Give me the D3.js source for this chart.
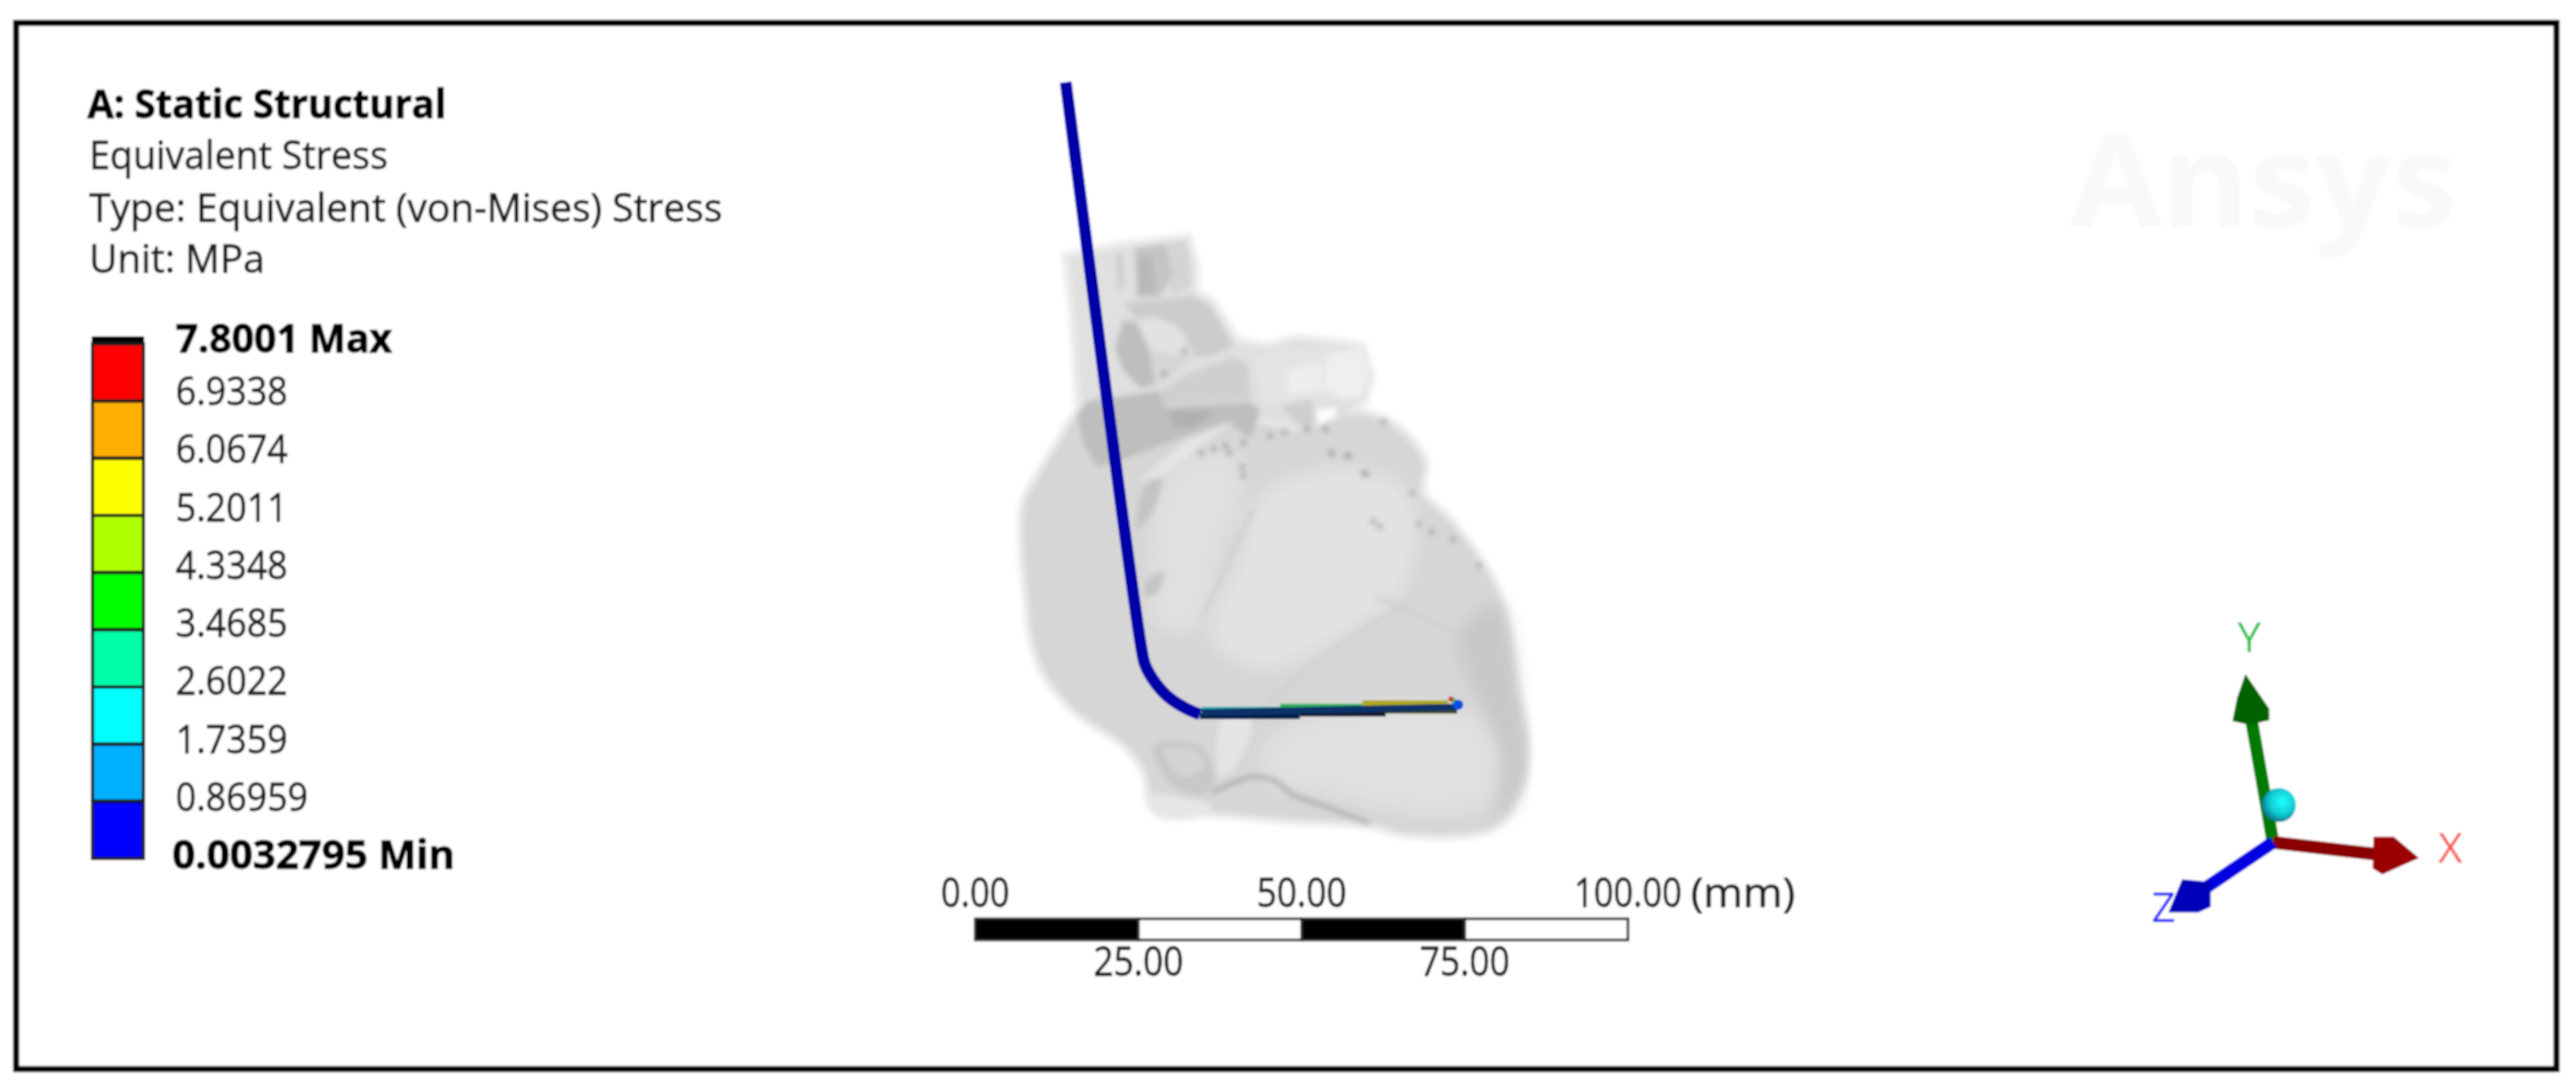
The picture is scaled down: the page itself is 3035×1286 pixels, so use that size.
<![CDATA[<!DOCTYPE html>
<html><head><meta charset="utf-8">
<script src="https://cdnjs.cloudflare.com/ajax/libs/d3/7.8.5/d3.min.js"></script>
<style>html,body{margin:0;padding:0;background:#fff}svg{display:block}text{font-family:"Open Sans",sans-serif}</style>
</head><body><svg id="c" width="3035" height="1286"></svg>
<script>
// ---- data ----
const titleLines = ["A: Static Structural","Equivalent Stress","Type: Equivalent (von-Mises) Stress","Unit: MPa"];
const stressMin = 0.0032795, stressMax = 7.8001;
const stressLabels = ["6.9338","6.0674","5.2011","4.3348","3.4685","2.6022","1.7359","0.86959"];
const bandColors = ["#ff0000","#ffb000","#ffff00","#b0ff00","#00ff00","#00ffaa","#00ffff","#00b0ff","#0000ff"];
const scaleTicks = [0,25,50,75,100];
const scaleLabels = ["0.00","25.00","50.00","75.00","100.00"];
// model outlines, in picture units of the whole-heart view
const heartBody = [[335,700],[295,750],[250,810],[212,870],[208,960],[218,1040],[230,1130],[258,1195],[325,1265],[445,1335],[490,1385],[515,1460],[627,1463],[817,1476],[1015,1487],[1090,1503],[1288,1492],[1345,1432],[1368,1339],[1345,1230],[1330,1140],[1300,1040],[1255,975],[1190,905],[1125,850],[1130,790],[1080,735],[1020,705],[960,700],[900,720],[830,730],[770,720],[600,680],[450,680]];
const paleA = [[540,810],[700,770],[720,830],[670,960],[620,1100],[560,1120],[510,1100],[500,950]];
const paleB = [[760,850],[960,800],[1100,850],[1090,1030],[940,1130],[760,1190],[640,1130],[700,980]];
const paleC = [[780,1320],[1050,1250],[1200,1260],[1290,1300],[1300,1440],[1150,1470],[900,1430],[760,1400]];
const darkRim = [[1210,1130],[1300,1060],[1350,1250],[1365,1400],[1300,1480],[1310,1350],[1270,1270],[1220,1180]];
const foldLines = [[[1100,1060],[960,1130],[830,1210],[740,1290],[700,1380]],[[740,880],[670,1000],[620,1090]],[[1020,1050],[1210,1130],[1240,1200]]];
const speckleShapes = [[[480,850],[530,800],[510,880],[470,920]],[[490,1020],[530,1000],[520,1040],[490,1050]]];
const dotsBody = [[920,775],[1000,815],[1030,915],[1105,850],[1120,910],[1150,925],[1200,940],[1260,990],[960,780],[1015,905]];
const wire = [[305,60],[480,1150],[488,1180],[511,1214],[544,1244],[586,1266],[615,1276]];
// great vessels, in picture units of the upper detail view
const upperShapes = [
 [[[55,100],[230,65],[390,45],[475,35],[500,130],[500,225],[560,260],[650,400],[760,420],[860,390],[1030,410],[1090,420],[1120,520],[1100,600],[1050,640],[1000,680],[900,710],[700,660],[100,640],[85,400],[70,220]],"#e0e0e0"],
 [[[405,50],[475,40],[495,200],[420,230],[400,100]],"#d4d4d4"],
 [[[225,85],[245,85],[250,200],[235,220]],"#c8c8c8"],
 [[[290,65],[400,50],[425,160],[380,240],[300,240]],"#c4c4c4"],
 [[[300,100],[350,90],[365,220],[300,235]],"#b8b8b8"],
 [[[250,260],[500,235],[560,270],[640,410],[560,450],[500,450],[470,380],[440,340],[350,310],[300,320]],"#cccccc"],
 [[[250,320],[300,330],[340,420],[365,550],[310,560],[250,500],[220,420]],"#bebebe"],
 [[[300,330],[380,315],[440,350],[465,400],[465,440],[400,440],[340,410]],"#e2e2e2"],
 [[[340,420],[400,440],[500,450],[420,520],[380,560],[360,500]],"#d6d6d6"],
 [[[370,580],[460,520],[640,450],[690,480],[700,600],[400,625]],"#cfcfcf"],
 [[[85,650],[130,605],[370,570],[400,630],[700,610],[735,640],[700,740],[620,680],[500,720],[260,810],[160,840],[110,760]],"#bebebe"],
 [[[410,640],[580,640],[500,700],[430,700]],"#b0b0b0"],
 [[[720,470],[770,430],[1030,425],[980,480],[960,560],[1050,600],[900,600],[820,620],[740,600]],"#e4e4e4"],
 [[[980,440],[1090,420],[1115,520],[1090,590],[1020,600],[960,560],[965,490]],"#efefef"],
 [[[830,500],[950,470],[950,570],[830,580]],"#eeeeee"],
 [[[800,620],[920,600],[930,690],[880,700]],"#cfcfcf"],
 [[[930,640],[1000,630],[1000,660],[940,690]],"#ffffff"],
 [[[300,890],[480,740],[640,680],[600,710],[380,880]],"#e4e4e4"]
];
const upperDots = [[525,790],[570,775],[612,765],[675,755],[625,790],[670,840],[675,870],[770,730],[820,715],[900,705],[965,705],[1170,680],[985,790],[1040,800],[1100,860],[465,430],[395,510]];
// apex and tip, in picture units of the lower detail view
const lowerShapes = [
 [[[620,200],[700,200],[650,380],[610,400]],"#e4e4e4"],
 [[[420,470],[470,470],[590,510],[560,545],[440,545]],"#e6e6e6"],
 [[[425,300],[480,275],[560,300],[590,360],[590,440],[560,470],[480,440],[450,390]],"#c8c8c8"],
 [[[455,310],[540,310],[570,370],[500,400]],"#d4d4d4"]
];
const veinLine = [[590,460],[640,430],[700,405],[760,415],[820,470],[900,505],[970,540],[1030,570]];
const tipBands = [
 [[560,168],[780,168],"#28a8b4",7],
 [[780,158],[1010,158],"#30b060",8],
 [[1010,145],[1250,145],"#b0a820",7],
 [[555,190],[835,190],"#06204e",7],
 [[835,181],[1075,181],"#141a30",7],
 [[1075,172],[1275,172],"#3a4a18",6],
 [[560,178],[1272,158],"#0a3068",8]
];
const tipDots = [[1265,135,"#30c050",3],[1258,130,"#c83820",3],[1278,150,"#0050e0",6]];
const triadOrigin = [2678,992];
const triadAxes = [
 {name:"Y",c:"#007a00",d:"#006400",head:[[2646,797],[2672,835],[2672,847],[2650,852],[2632,848],[2637,823]],end:[2653,850],lab:[2650,768],lc:"#32c050"},
 {name:"X",c:"#8a0000",d:"#9a0000",head:[[2847,1010],[2820,987],[2798,987],[2797,1022],[2807,1028]],end:[2800,1006],lab:[2887,1016],lc:"#ff5a5a"},
 {name:"Z",c:"#0000e0",d:"#0000b8",head:[[2557,1073],[2572,1037],[2603,1040],[2603,1067],[2590,1073]],end:[2598,1046],lab:[2549,1086],lc:"#2a2aff"}
];

// ---- scales ----
const svg = d3.select("#c");
const defs = svg.append("defs");
const blur = (id,s)=>defs.append("filter").attr("id",id).attr("x","-5%").attr("y","-5%").attr("width","110%").attr("height","110%").append("feGaussianBlur").attr("stdDeviation",s);
blur("soft",1.2); blur("heart",3); blur("mist",9);
const g = svg.append("g").attr("filter","url(#soft)");
g.append("rect").attr("width",3035).attr("height",1286).attr("fill","#fff");

const mx = d3.scaleLinear([0,1568],[1100,1900]), my = d3.scaleLinear([0,1568],[60,1020]);
const ux = d3.scaleLinear([0,1260],[1240,1660]), uy = d3.scaleLinear([0,900],[270,570]);
const lx = d3.scaleLinear([0,1568],[1180,1840]), ly = d3.scaleLinear([0,660],[780,1000]);
const lineIn = (x,y,c)=>d3.line().x(d=>x(d[0])).y(d=>y(d[1])).curve(c||d3.curveLinear);
const closed = lineIn(mx,my,d3.curveCatmullRomClosed.alpha(.5));
const openCurve = lineIn(mx,my,d3.curveCatmullRom.alpha(.5));
const upperPath = lineIn(ux,uy,d3.curveLinearClosed);
const lowerPath = lineIn(lx,ly,d3.curveCatmullRomClosed.alpha(.5));
const lowerOpen = lineIn(lx,ly);
const lowerCurve = lineIn(lx,ly,d3.curveCatmullRom.alpha(.5));

const yBand = d3.scaleLinear([stressMin,stressMax],[1011,405]);
const yLab = d3.scaleLinear([stressMin,stressMax],[1007,393]);
const xMm = d3.scaleLinear([0,100],[1149,1918]);

// frame
g.append("rect").attr("x",19).attr("y",27).attr("width",2993).attr("height",1232).attr("fill","none").attr("stroke","#000").attr("stroke-width",7);

// watermark
g.append("text").attr("x",2439).attr("y",267).attr("font-size",150).attr("font-weight",700).attr("fill","#faf8f8")
 .attr("textLength",456).attr("lengthAdjust","spacingAndGlyphs").text("Ansys");

// titles
const titleY=[139,199,261,321], titleW=[423,352,746,207];
g.selectAll("text.t").data(titleLines).join("text").attr("class","t")
 .attr("x",(d,i)=>i?105:103).attr("y",(d,i)=>titleY[i]).attr("font-size",46)
 .attr("font-weight",(d,i)=>i?400:700).attr("fill",(d,i)=>i?"#1c1c1c":"#000")
 .attr("stroke",(d,i)=>i?"#1c1c1c":"#000").attr("stroke-width",(d,i)=>i?.8:1)
 .attr("textLength",(d,i)=>titleW[i]).attr("lengthAdjust","spacingAndGlyphs").text(d=>d);

// legend bar
const step=(stressMax-stressMin)/bandColors.length;
g.append("rect").attr("x",108).attr("y",yBand(stressMax)-9).attr("width",62).attr("height",9).attr("fill","#000");
g.selectAll("rect.b").data(bandColors).join("rect").attr("class","b")
 .attr("x",109).attr("width",60)
 .attr("y",(d,i)=>yBand(stressMax-i*step))
 .attr("height",(d,i)=>yBand(stressMax-(i+1)*step)-yBand(stressMax-i*step))
 .attr("fill",d=>d).attr("stroke","#1a1a1a").attr("stroke-width",4);

// legend labels
const labW={6:132,7:156};
g.selectAll("text.l").data(stressLabels).join("text").attr("class","l")
 .attr("x",207).attr("y",d=>yLab(+d)+16).attr("font-size",46).attr("fill","#1c1c1c").attr("stroke","#1c1c1c").attr("stroke-width",.8)
 .attr("textLength",d=>labW[d.length]).attr("lengthAdjust","spacingAndGlyphs").text(d=>d);
g.append("text").attr("x",207).attr("y",yLab(stressMax)+22).attr("font-size",46).attr("font-weight",700).attr("fill","#000").attr("stroke","#000")
 .attr("textLength",255).attr("lengthAdjust","spacingAndGlyphs").text(stressMax.toFixed(4)+" Max");
g.append("text").attr("x",203).attr("y",yLab(stressMin)+16).attr("font-size",46).attr("font-weight",700).attr("fill","#000").attr("stroke","#000")
 .attr("textLength",333).attr("lengthAdjust","spacingAndGlyphs").text(stressMin.toFixed(7)+" Min");

// heart
const h = g.append("g").attr("filter","url(#heart)");
h.append("path").attr("d",upperPath(upperShapes[0][0])).attr("fill","#ebebeb").attr("stroke","#ebebeb").attr("stroke-width",14);
h.append("path").attr("d",closed(heartBody)).attr("fill","#d6d6d6").attr("stroke","#e9e9e9").attr("stroke-width",14).attr("paint-order","stroke");
h.append("path").attr("d",closed(paleB)).attr("fill","#e2e2e2").attr("filter","url(#mist)");
h.append("path").attr("d",closed(paleA)).attr("fill","#e0e0e0").attr("filter","url(#mist)");
h.append("path").attr("d",closed(paleC)).attr("fill","#e0e0e0").attr("filter","url(#mist)");
h.append("path").attr("d",closed(darkRim)).attr("fill","#c8c8c8").attr("filter","url(#mist)");
h.selectAll("path.fold").data(foldLines).join("path").attr("class","fold").attr("d",openCurve).attr("fill","none").attr("stroke","#d0d0d0").attr("stroke-width",5);
h.selectAll("path.sp").data(speckleShapes).join("path").attr("class","sp").attr("d",closed).attr("fill","#c4c4c4");
h.selectAll("path.u").data(upperShapes).join("path").attr("class","u").attr("d",d=>upperPath(d[0])).attr("fill",d=>d[1]);
h.selectAll("circle.ud").data(upperDots).join("circle").attr("class","ud").attr("cx",d=>ux(d[0])).attr("cy",d=>uy(d[1])).attr("r",3).attr("fill","#808080");
h.selectAll("circle.bd").data(dotsBody).join("circle").attr("class","bd").attr("cx",d=>mx(d[0])).attr("cy",d=>my(d[1])).attr("r",3).attr("fill","#8c8c8c");
h.selectAll("path.lo").data(lowerShapes).join("path").attr("class","lo").attr("d",d=>lowerPath(d[0])).attr("fill",d=>d[1]);
h.append("path").attr("d",lowerCurve(veinLine)).attr("fill","none").attr("stroke","#aaaaaa").attr("stroke-width",5);

// wire
const w = g.append("g");
w.append("path").attr("d",openCurve(wire)).attr("fill","none").attr("stroke","#0000a8").attr("stroke-width",14);
w.selectAll("path.tip").data(tipBands).join("path").attr("class","tip")
 .attr("d",d=>lowerOpen([d[0],d[1]])).attr("fill","none").attr("stroke",d=>d[2]).attr("stroke-width",d=>d[3]);
w.selectAll("circle.tipd").data(tipDots).join("circle").attr("class","tipd")
 .attr("cx",d=>lx(d[0])).attr("cy",d=>ly(d[1])).attr("r",d=>d[3]).attr("fill",d=>d[2]);

// scale bar
g.selectAll("rect.sb").data(d3.pairs(scaleTicks)).join("rect").attr("class","sb")
 .attr("x",d=>xMm(d[0])).attr("y",1082).attr("width",d=>xMm(d[1])-xMm(d[0])).attr("height",25)
 .attr("fill",(d,i)=>i%2?"#fff":"#000").attr("stroke","#333").attr("stroke-width",3);
const scaleW=[81,106,106,106,127];
g.selectAll("text.s").data(scaleLabels).join("text").attr("class","s")
 .attr("x",(d,i)=>xMm(scaleTicks[i])).attr("y",(d,i)=>i%2?1149:1068).attr("text-anchor","middle")
 .attr("font-size",48).attr("fill","#1c1c1c").attr("stroke","#1c1c1c").attr("stroke-width",.8).attr("textLength",(d,i)=>scaleW[i]).attr("lengthAdjust","spacingAndGlyphs").text(d=>d);
g.append("text").attr("x",1992).attr("y",1068).attr("font-size",48).attr("fill","#1c1c1c").attr("stroke","#1c1c1c").attr("stroke-width",.8).attr("textLength",123).attr("lengthAdjust","spacingAndGlyphs").text("(mm)");

// triad
const t=g.append("g");
const grad=defs.append("radialGradient").attr("id","ball").attr("cx",".6").attr("cy",".4").attr("r",".65");
grad.append("stop").attr("offset",0).attr("stop-color","#20ffff");
grad.append("stop").attr("offset",.6).attr("stop-color","#10c8d0");
grad.append("stop").attr("offset",1).attr("stop-color","#0a6a80");
triadAxes.forEach(a=>{
 t.append("line").attr("x1",triadOrigin[0]).attr("y1",triadOrigin[1]).attr("x2",a.end[0]).attr("y2",a.end[1]).attr("stroke",a.c).attr("stroke-width",15);
 t.append("path").attr("d",d3.line()(a.head)+"Z").attr("fill",a.d).attr("stroke",a.d).attr("stroke-width",3);
 t.append("text").attr("x",a.lab[0]).attr("y",a.lab[1]).attr("text-anchor","middle").attr("font-size",50).attr("fill",a.lc).text(a.name);
});
t.append("circle").attr("cx",2685).attr("cy",948).attr("r",20).attr("fill","url(#ball)");
</script></body></html>]]>
